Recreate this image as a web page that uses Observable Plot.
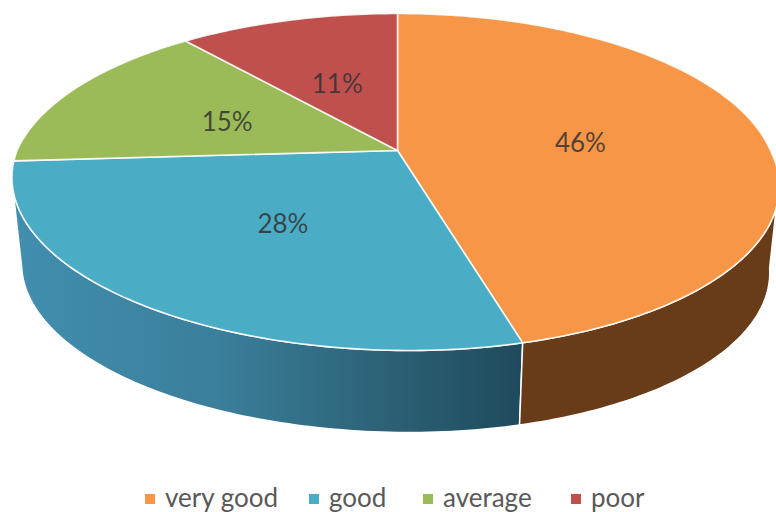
<!DOCTYPE html>
<html><head><meta charset="utf-8">
<script src="https://cdn.jsdelivr.net/npm/d3@7"></script>
<script src="https://cdn.jsdelivr.net/npm/@observablehq/plot@0.6"></script>
<style>
html,body{margin:0;padding:0;background:#fff}
svg{display:block}
#legend{height:42px;position:relative;font:26px Lato,sans-serif;color:#595959}
#legend .i{position:absolute;top:11px;display:flex;align-items:center;gap:10px;line-height:32px}
#legend .s{width:10px;height:10px;display:inline-block;margin-top:4px}
</style></head><body>
<div id="chart"></div><div id="legend"></div>
<script>
const categories = ["very good", "good", "average", "poor"];
const shares = [46, 28, 15, 11];
const labels = ["46%", "28%", "15%", "11%"];
const topColors = ["#f79646", "#4bacc6", "#9bbb59", "#c0504d"];

// tilted-disc projection: unit circle -> picture plane, slightly skewed like the source
const k = 0.187, depth = 0.535, shrink = 0.975, leftStretch = 1.02, skew = 0.027;
const proj = (deg, r = 1, low = false) => {
  const t = deg * Math.PI / 180, u = r * Math.sin(t), v = r * Math.cos(t), w = 1 + k * v;
  const s = low ? shrink : 1;
  const X = (u / w) * (u < 0 ? leftStretch : 1) - skew * Math.min(v / w, 0);
  return {x: s * X, y: s * v / w - (low ? depth : 0)};
};
let acc = 0;
const slices = categories.map((c, i) => {
  const a0 = acc * 3.6; acc += shares[i]; const a1 = acc * 3.6;
  return {c, i, a0, a1, label: labels[i]};
});
const arc = (a0, a1, low) => {
  const n = Math.ceil(a1 - a0), o = [];
  for (let j = 0; j <= n; ++j) o.push(proj(a0 + (a1 - a0) * j / n, 1, low));
  return o;
};
const topPts = slices.flatMap(s => {
  const c = {x: 0, y: 0};
  return [c, ...arc(s.a0, s.a1, false), c].map(p => ({...p, c: s.c}));
});
// outer wall: only the arc between the two silhouette angles faces the viewer
const silhouette = Math.acos(-k) * 180 / Math.PI;
const sidePts = s => {
  const a0 = Math.max(s.a0, silhouette), a1 = Math.min(s.a1, 360 - silhouette);
  const a = arc(a0, a1, false), b = arc(a0, a1, true).reverse();
  return [...a, ...b, a[0]];
};
const nudge = [[0, 3], [2, 3], [-2, 3], [-1, 4]];
const labelRows = slices.map(s => ({...proj((s.a0 + s.a1) / 2, 0.5), label: s.label, i: s.i}));

const defs = () => {
  const d = d3.create("svg:defs");
  const g = d.append("linearGradient").attr("id", "sideBlue").attr("gradientUnits", "userSpaceOnUse")
    .attr("x1", 15).attr("x2", 520).attr("y1", 0).attr("y2", 0);
  [[0, "#418eae"], [0.4, "#3a7f9b"], [0.7, "#2e6479"], [1, "#1f4a5d"]].forEach(([o, c]) =>
    g.append("stop").attr("offset", o).attr("stop-color", c));
  return d.node();
};

const px = 373, py = 162.6, ax = 397, ay = 150, W = 776, H = 470;
const chart = Plot.plot({
  width: W, height: H, margin: 0,
  x: {domain: [-ax / px, (W - ax) / px], range: [0, W], axis: null},
  y: {domain: [-(H - ay) / py, ay / py], range: [H, 0], axis: null},
  color: {domain: categories, range: topColors},
  style: {background: "#fff"},
  marks: [
    defs,
    Plot.line(sidePts(slices[1]), {x: "x", y: "y", fill: "url(#sideBlue)", stroke: "#fff", strokeWidth: 1.5}),
    Plot.line(sidePts(slices[0]), {x: "x", y: "y", fill: "#683c18", stroke: "#fff", strokeWidth: 1.5}),
    Plot.line(topPts, {x: "x", y: "y", z: "c", fill: "c", stroke: "#fff", strokeOpacity: 0.85, strokeWidth: 1.6, strokeLinejoin: "round"}),
    ...labelRows.map((r, i) => Plot.text([r], {
      x: "x", y: "y", text: "label", dx: nudge[i][0], dy: nudge[i][1],
      fontSize: 26, fontFamily: "Lato, sans-serif", fill: "#333", fillOpacity: 0.85
    }))
  ]
});
document.getElementById("chart").append(chart);
const lg = document.getElementById("legend");
const legendLeft = [145, 309, 423, 571];
categories.forEach((c, i) => {
  const it = document.createElement("span"); it.className = "i"; it.style.left = legendLeft[i] + "px";
  const s = document.createElement("span"); s.className = "s"; s.style.background = topColors[i];
  const t = document.createElement("span"); t.textContent = c;
  it.append(s, t); lg.append(it);
});
</script></body></html>
